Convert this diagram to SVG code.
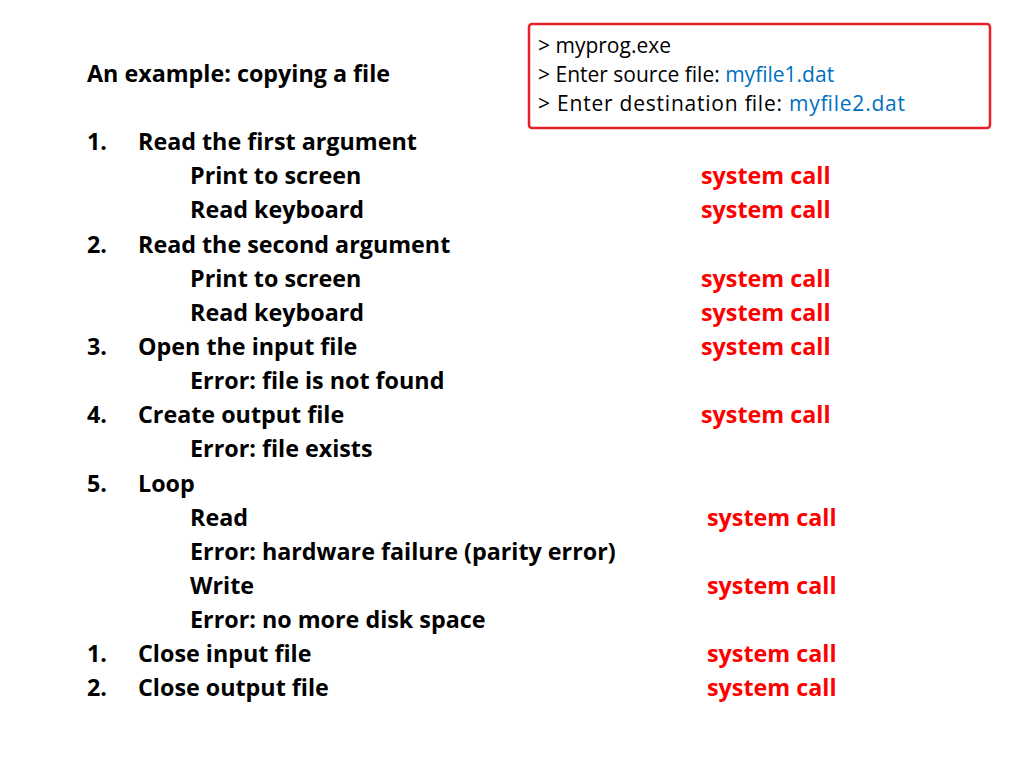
<svg xmlns="http://www.w3.org/2000/svg" width="1024" height="768" viewBox="0 0 1024 768">
<style>
text{font-family:"Open Sans","Liberation Sans",sans-serif;}
.b{font-weight:bold;font-size:23.3px;fill:#000}
.r{font-weight:bold;font-size:23.3px;fill:#ff0000}
.t{font-size:21px;fill:#000}
.bl{fill:#0070c0}
</style>
<rect width="1024" height="768" fill="#fff"/>
<g id="terminal">
<rect x="529" y="24" width="461" height="104" rx="3" fill="#fff" stroke="#e8202a" stroke-width="2.5"/>
<text class="t" x="538" y="53">&gt; myprog.exe</text>
<text class="t" x="538" y="82">&gt; Enter source file: <tspan class="bl">myfile1.dat</tspan></text>
<text class="t" x="538" y="111" textLength="367" lengthAdjust="spacing">&gt; Enter destination file: <tspan class="bl">myfile2.dat</tspan></text>
</g>
<g id="steps">
<text class="b" x="87" y="82">An example: copying a file</text>
<text class="b" x="87" y="150">1.</text><text class="b" x="138" y="150">Read the first argument</text>
<text class="b" x="190" y="184">Print to screen</text>
<text class="b" x="190" y="218">Read keyboard</text>
<text class="b" x="87" y="253">2.</text><text class="b" x="138" y="253">Read the second argument</text>
<text class="b" x="190" y="287">Print to screen</text>
<text class="b" x="190" y="321">Read keyboard</text>
<text class="b" x="87" y="355">3.</text><text class="b" x="138" y="355">Open the input file</text>
<text class="b" x="190" y="389">Error: file is not found</text>
<text class="b" x="87" y="423">4.</text><text class="b" x="138" y="423">Create output file</text>
<text class="b" x="190" y="457">Error: file exists</text>
<text class="b" x="87" y="492">5.</text><text class="b" x="138" y="492">Loop</text>
<text class="b" x="190" y="526">Read</text>
<text class="b" x="190" y="560">Error: hardware failure (parity error)</text>
<text class="b" x="190" y="594">Write</text>
<text class="b" x="190" y="628">Error: no more disk space</text>
<text class="b" x="87" y="662">1.</text><text class="b" x="138" y="662">Close input file</text>
<text class="b" x="87" y="696">2.</text><text class="b" x="138" y="696">Close output file</text>
</g>
<g id="syscalls">
<text class="r" x="701" y="184">system call</text>
<text class="r" x="701" y="218">system call</text>
<text class="r" x="701" y="287">system call</text>
<text class="r" x="701" y="321">system call</text>
<text class="r" x="701" y="355">system call</text>
<text class="r" x="701" y="423">system call</text>
<text class="r" x="707" y="526">system call</text>
<text class="r" x="707" y="594">system call</text>
<text class="r" x="707" y="662">system call</text>
<text class="r" x="707" y="696">system call</text>
</g>
</svg>
